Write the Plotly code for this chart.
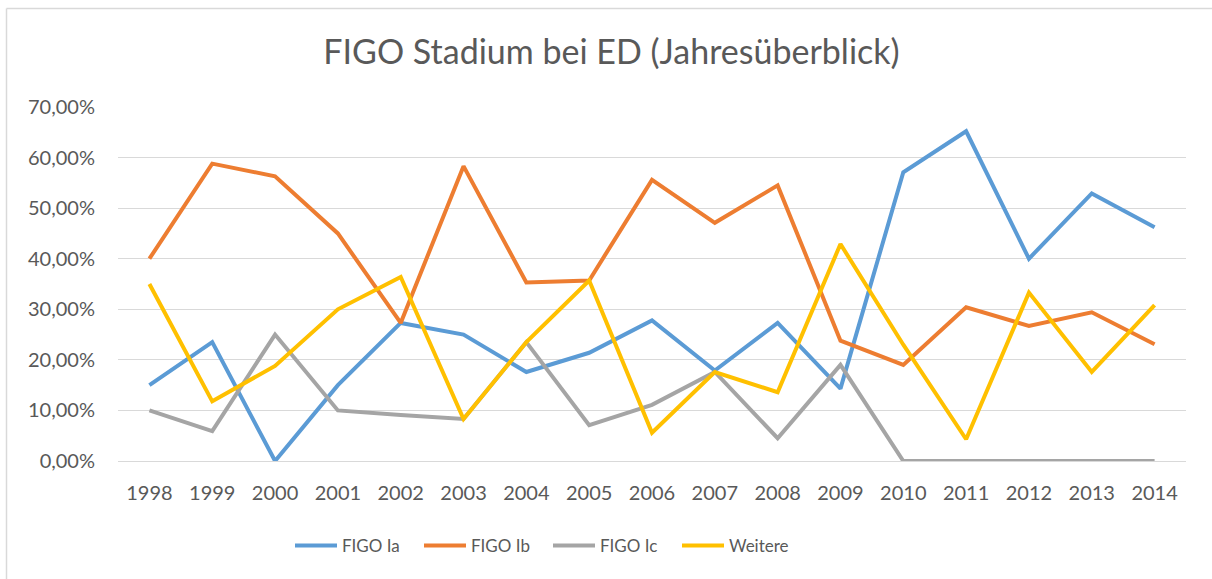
import plotly.graph_objects as go

years = ["1998", "1999", "2000", "2001", "2002", "2003", "2004", "2005", "2006",
         "2007", "2008", "2009", "2010", "2011", "2012", "2013", "2014"]
figo_ia = [15.0, 23.5, 0.0, 15.0, 27.3, 25.0, 17.6, 21.4, 27.8, 17.9, 27.3, 14.3, 57.1, 65.2, 40.0, 52.9, 46.2]
figo_ib = [40.0, 58.8, 56.3, 45.0, 27.3, 58.3, 35.3, 35.7, 55.6, 47.1, 54.5, 23.8, 19.0, 30.4, 26.7, 29.4, 23.1]
figo_ic = [10.0, 5.9, 25.0, 10.0, 9.1, 8.3, 23.5, 7.1, 11.1, 17.6, 4.5, 19.0, 0.0, 0.0, 0.0, 0.0, 0.0]
weitere = [35.0, 11.8, 18.8, 30.0, 36.4, 8.3, 23.5, 35.7, 5.6, 17.6, 13.6, 42.9, 23.0, 4.3, 33.3, 17.6, 30.8]

series_names = ["FIGO Ia", "FIGO Ib", "FIGO Ic", "Weitere"]
series_values = [figo_ia, figo_ib, figo_ic, weitere]
colors = ["#5B9BD5", "#ED7D31", "#A5A5A5", "#FFC000"]
y_ticks = [0, 10, 20, 30, 40, 50, 60, 70]
y_tick_labels = ["0,00%", "10,00%", "20,00%", "30,00%", "40,00%", "50,00%", "60,00%", "70,00%"]

font_family = "Lato, 'Open Sans', sans-serif"
text_color = "#595959"

W, H = 1212, 579
L, R, T, B = 118, 26, 107, 118
pw, ph = W - L - R, H - T - B


def px_x(px):
    return (px - L) / pw


def px_y(py):
    return (H - B - py) / ph


fig = go.Figure()
for name, vals, col in zip(series_names, series_values, colors):
    fig.add_trace(go.Scatter(
        x=years, y=vals, name=name, mode="lines",
        line=dict(color=col, width=4, shape="linear"),
    ))

fig.update_layout(
    width=W, height=H,
    paper_bgcolor="white", plot_bgcolor="white",
    margin=dict(l=L, r=R, t=T, b=B, autoexpand=False),
    title=dict(text="FIGO Stadium bei ED (Jahresüberblick)", x=611.5 / W, xanchor="center",
               y=1 - 52 / H, yanchor="middle",
               font=dict(family=font_family, size=34, color=text_color)),
    font=dict(family=font_family, size=20, color=text_color),
    showlegend=True,
    legend=dict(orientation="h", x=px_x(290), xanchor="left", y=px_y(546), yanchor="middle",
                font=dict(family=font_family, size=17, color=text_color),
                itemwidth=42, entrywidth=72, tracegroupgap=0, bgcolor="rgba(0,0,0,0)"),
    shapes=[
        dict(type="line", xref="paper", yref="paper", x0=px_x(6.5), x1=px_x(W + 5),
             y0=px_y(8.5), y1=px_y(8.5), line=dict(color="#D9D9D9", width=1.5), layer="below"),
        dict(type="line", xref="paper", yref="paper", x0=px_x(6.5), x1=px_x(6.5),
             y0=px_y(8.5), y1=px_y(H + 5), line=dict(color="#D9D9D9", width=1.5), layer="below"),
    ],
)
fig.update_xaxes(type="category", range=[-0.5, 16.5], showgrid=False, zeroline=False,
                 showline=False, ticks="", ticklabelstandoff=18,
                 tickfont=dict(size=20, color=text_color))
fig.update_yaxes(range=[0, 70], tickvals=y_ticks, ticktext=y_tick_labels,
                 showgrid=True, gridcolor="#D9D9D9", gridwidth=1.3, zeroline=True,
                 zerolinecolor="#D9D9D9", zerolinewidth=1.3, showline=False, ticks="",
                 ticklabelstandoff=22,
                 tickfont=dict(size=20, color=text_color))

fig.write_html("out.html", config={"displayModeBar": False})
with open("out.html", "r", encoding="utf-8") as f:
    html = f.read()
html = html.replace("<head>", "<head><style>html,body{margin:0;padding:0;overflow:hidden;}</style>", 1)
with open("out.html", "w", encoding="utf-8") as f:
    f.write(html)
